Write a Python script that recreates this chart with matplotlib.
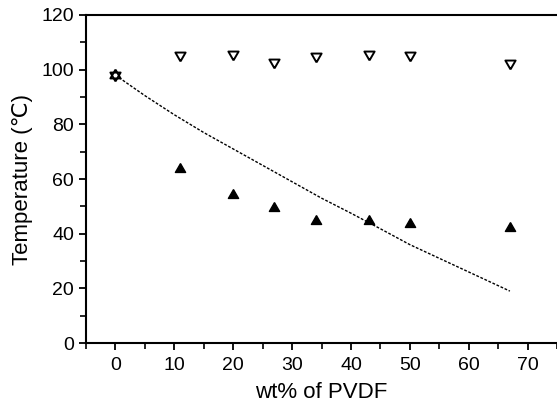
import matplotlib
matplotlib.use("Agg")
import matplotlib.pyplot as plt
from matplotlib.ticker import MultipleLocator

plt.rcParams['font.family'] = ['Liberation Sans', 'DejaVu Sans']

x_open = [0, 11, 20, 27, 34, 43, 50, 67]
y_open = [98, 105.3, 105.9, 102.9, 105.1, 105.7, 105.2, 102.3]

x_fill = [11, 20, 27, 34, 43, 50, 67]
y_fill = [63.6, 54.3, 49.4, 44.8, 44.8, 43.4, 41.9]

# pure polymer point (shown as an open up-triangle overlapping the down-triangle)
x_pure = [0]
y_pure = [98]

x_line = [0, 5, 10, 15, 20, 25, 30, 35, 40, 45, 50, 55, 60, 67]
y_line = [98, 90.5, 83.5, 77, 71, 65, 59, 53, 47.5, 41.8, 36, 31, 26, 19]

# equilateral triangles centred on their centroid (so up+down form a star)
tri_up = [(0, 1), (-0.866, -0.5), (0.866, -0.5), (0, 1)]
tri_down = [(0, -1), (0.866, 0.5), (-0.866, 0.5), (0, -1)]

fig = plt.figure(figsize=(5.57, 4.05), dpi=100)
ax = fig.add_axes([0.1544, 0.153, 0.8456, 0.81])

ax.plot(x_line, y_line, color='black', linestyle=(0, (2.0, 1.2)), linewidth=1.0)
ax.plot(x_fill, y_fill, linestyle='none', marker=tri_up, markersize=8.5,
        markerfacecolor='black', markeredgecolor='black')
ax.plot(x_pure, y_pure, linestyle='none', marker=tri_up, markersize=8.5,
        markerfacecolor='white', markeredgecolor='black', markeredgewidth=1.4)
ax.plot(x_open, y_open, linestyle='none', marker=tri_down, markersize=8.5,
        markerfacecolor='none', markeredgecolor='black', markeredgewidth=1.4)

ax.set_xlim(-5, 75)
ax.set_ylim(0, 120)
ax.xaxis.set_major_locator(MultipleLocator(10))
ax.xaxis.set_minor_locator(MultipleLocator(5))
ax.yaxis.set_major_locator(MultipleLocator(20))
ax.yaxis.set_minor_locator(MultipleLocator(10))
ax.set_xticks(range(0, 71, 10))

ax.spines['right'].set_visible(False)
for s in ['left', 'bottom', 'top']:
    ax.spines[s].set_linewidth(1.5)

ax.tick_params(which='major', direction='out', length=5, width=1.3, labelsize=14)
ax.tick_params(which='minor', direction='out', length=4, width=1.2)
ax.tick_params(axis='x', which='major', pad=5)

ax.set_xlabel('wt% of PVDF', fontsize=16, labelpad=6)
ax.set_ylabel('Temperature (℃)', fontsize=16, labelpad=6)

fig.savefig('out.png', dpi=100)
